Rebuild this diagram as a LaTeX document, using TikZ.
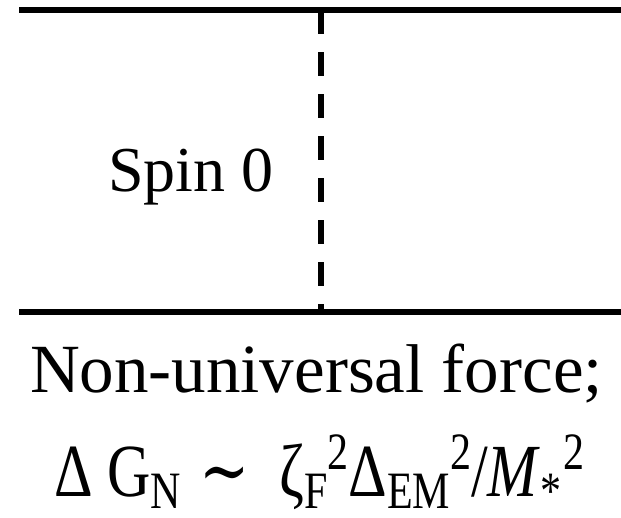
\documentclass[tikz,border=0pt]{standalone}
\usepackage{fontspec}
\setmainfont{Liberation Serif}
\newfontfamily\djv{DejaVu Serif}
\tikzset{
  rail/.style={line width=5.5pt},
  propagator/.style={line width=5.5pt, dash pattern=on 24pt off 18pt},
  lbl/.style={inner sep=0pt, outer sep=0pt, anchor=base west},
}
\newcommand{\sbx}[1]{\raisebox{-0.17em}{\fontsize{42}{46}\selectfont #1}}
\newcommand{\spx}[1]{\raisebox{0.36em}{\fontsize{42}{46}\selectfont #1}}
\begin{document}
\begin{tikzpicture}[x=1pt,y=-1pt]
\useasboundingbox (0,0) rectangle (621,517);
\coordinate (tl) at (19,10);
\coordinate (tr) at (621,10);
\coordinate (bl) at (19,312);
\coordinate (br) at (621,312);
\coordinate (vt) at (321,10);
\coordinate (vb) at (321,312);
\draw[rail] (tl) -- (tr);
\draw[rail] (bl) -- (br);
\draw[propagator] (vt) -- (vb);
\node[lbl, font=\fontsize{64}{70}\selectfont] (spin) at (108,191) {Spin 0};
\node[lbl, font=\fontsize{69}{75}\selectfont] (nonu) at (30,392) {Non-universal force;};
\node[lbl, font=\fontsize{60}{66}\selectfont] (form) at (54,496)
  {\scalebox{1}[1.25]{Δ G\sbx{N}\hspace{0.3em}{\djv\fontsize{60}{64}\selectfont ∼}\hspace{0.5em}ζ\sbx{F}\spx{2}Δ\sbx{EM}\spx{2}/\textit{M}\sbx{*}\kern2pt\spx{2}}};
\end{tikzpicture}
\end{document}
